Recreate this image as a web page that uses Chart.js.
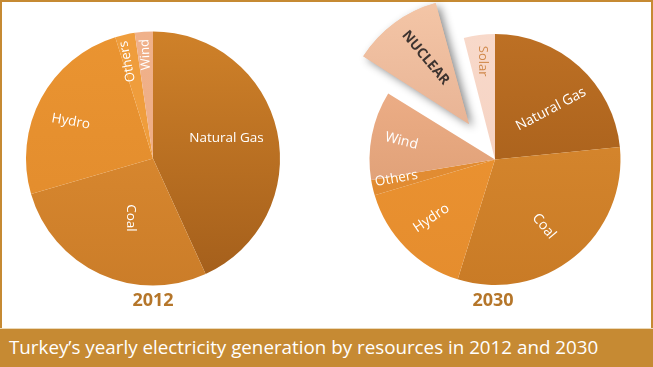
<!DOCTYPE html>
<html><head><meta charset="utf-8">
<script src="https://cdn.jsdelivr.net/npm/chart.js@4.4.0/dist/chart.umd.min.js"></script>
<style>
html,body{margin:0;padding:0;background:#fff;}
#wrap{position:relative;width:653px;height:367px;overflow:hidden;background:#fff;font-family:'Open Sans',sans-serif;}
#frame{position:absolute;left:0;top:0;width:653px;height:329px;box-sizing:border-box;border:2px solid #C68A33;border-bottom:none;}
#footer{position:absolute;left:0;top:328px;width:653px;height:39px;background:#C68A33;border-top:1px solid #EBD9B8;box-sizing:border-box;color:#fff;font-size:18.8px;line-height:36px;padding-left:9px;white-space:nowrap;}
.year{position:absolute;top:287px;width:100px;text-align:center;font-weight:bold;font-size:18px;color:#B5762A;}
canvas{position:absolute;top:0;}
</style></head>
<body><div id="wrap">
<div id="frame"></div>
<canvas id="c2012" width="306" height="317" style="left:0"></canvas>
<canvas id="c2030" width="330" height="319" style="left:330px"></canvas>
<div class="year" id="y0" style="left:103px"></div>
<div class="year" id="y1" style="left:443px"></div>
<div id="footer"></div>
</div>
<script>
// ---- data ----
const years = ['2012', '2030'];
const footerTitle = 'Turkey’s yearly electricity generation by resources in 2012 and 2030';
const categories2012 = ['Natural Gas', 'Coal', 'Hydro', 'Others', 'Wind'];
const values2012 = [43.2, 27.3, 24.7, 2.5, 2.3];
const categories2030 = ['Natural Gas', 'Coal', 'Hydro', 'Others', 'Wind', 'NUCLEAR', 'Solar'];
const values2030 = [23.4, 31.4, 15.6, 2.0, 11.4, 12.2, 4.0];

// ---- styles ----
const colors2012 = [['#CF8129', '#A35E1B'], ['#E28F33', '#CB7D29'], ['#EA9431', '#E08A2C'], ['#EF9D3C', '#EF9D3C'], ['#F0B18A', '#EDAA82']];
const colors2030 = [['#BD7024', '#9C5717'], ['#DC8C31', '#C97B26'], ['#EE9532', '#E58D2E'], ['#E38E34', '#E08A30'], ['#F3B48E', '#D4956A'], ['#F4C6A7', '#DDA283'], ['#F8D9CA', '#F3CDBC']];
const offsets2030 = [0, 0, 0, 0, 0, 176, 0];
const labels2012 = [
  {f: 0.6, da: -3, rot: 0, size: 13.5},
  {f: 0.5, da: -4, rot: 90, size: 13.5},
  {f: 0.71, da: -4, rot: 10, size: 13.5},
  {f: 0.79, da: -2, rot: -101, size: 13},
  {f: 0.82, da: 0, rot: -93, size: 13}
];
const labels2030 = [
  {f: 0.6, da: 6, rot: -28, size: 14},
  {f: 0.66, da: 3, rot: 50, size: 14},
  {f: 0.69, da: 2, rot: -34, size: 14},
  {f: 0.8, da: 2, rot: -10, size: 13.5},
  {f: 0.76, da: 0, rot: 14, size: 14},
  {f: 0.63, da: 2, rot: 50, size: 14, bold: true, color: '#3E3430'},
  {f: 0.79, da: 0, rot: 90, size: 13, color: '#D0894C'}
];

document.getElementById('y0').textContent = years[0];
document.getElementById('y1').textContent = years[1];
document.getElementById('footer').textContent = footerTitle;

function gradFor(colors) {
  return (ctx) => {
    const chart = ctx.chart;
    const a = chart.chartArea;
    const pair = colors[ctx.dataIndex];
    if (!a) return pair[0];
    const meta = chart.getDatasetMeta(0);
    const r = meta.controller.outerRadius || (a.bottom - a.top) / 2;
    const cy = (a.top + a.bottom) / 2;
    const g = chart.ctx.createLinearGradient(0, cy - r, 0, cy + r);
    g.addColorStop(0, pair[0]);
    g.addColorStop(1, pair[1]);
    return g;
  };
}

// keeps an exploded slice at the same radius as the others
const flatOffset = {
  id: 'flatOffset',
  afterDatasetUpdate(chart, args) {
    args.meta.data.forEach(el => {
      const off = (el.options.offset || 0) / 4;
      if (off > 0) {
        const circ = el.endAngle - el.startAngle;
        const fix = 1 - Math.sin(Math.min(Math.PI, circ));
        el.outerRadius = el.outerRadius - off * fix;
      }
    });
  }
};

const shadowSlice = {
  id: 'shadowSlice',
  beforeDatasetDraw(chart, args) {
    const ctx = chart.ctx;
    args.meta.data.forEach(el => {
      if ((el.options.offset || 0) > 0) {
        ctx.save();
        ctx.shadowColor = 'rgba(0,0,0,0.45)';
        ctx.shadowBlur = 9;
        ctx.shadowOffsetX = 4;
        ctx.shadowOffsetY = 3;
        el.draw(ctx);
        ctx.restore();
      }
    });
  }
};

const sliceLabels = {
  id: 'sliceLabels',
  afterDatasetsDraw(chart, args, opts) {
    const ctx = chart.ctx;
    const meta = chart.getDatasetMeta(0);
    const R = meta.controller.outerRadius;
    const names = chart.data.labels;
    meta.data.forEach((el, i) => {
      const s = opts.styles[i];
      const off = (el.options.offset || 0) / 4;
      const mid = (el.startAngle + el.endAngle) / 2 + s.da * Math.PI / 180;
      const d = off + s.f * R;
      const x = el.x + Math.cos(mid) * d;
      const y = el.y + Math.sin(mid) * d;
      ctx.save();
      ctx.translate(x, y);
      ctx.rotate(s.rot * Math.PI / 180);
      ctx.font = (s.bold ? 'bold ' : '') + s.size + "px 'Open Sans', sans-serif";
      ctx.fillStyle = s.color || '#ffffff';
      ctx.textAlign = 'center';
      ctx.textBaseline = 'middle';
      ctx.fillText(names[i], 0, 0);
      ctx.restore();
    });
  }
};

function makePie(id, cats, vals, colors, offsets, radius, styles) {
  return new Chart(document.getElementById(id), {
    type: 'pie',
    data: {
      labels: cats,
      datasets: [{
        data: vals,
        backgroundColor: gradFor(colors),
        borderWidth: 0,
        offset: offsets,
        hoverOffset: 0,
        radius: radius
      }]
    },
    options: {
      responsive: false,
      animation: false,
      events: [],
      layout: {padding: 0},
      plugins: {
        legend: {display: false},
        tooltip: {enabled: false},
        sliceLabels: {styles: styles}
      }
    },
    plugins: [flatOffset, shadowSlice, sliceLabels]
  });
}

makePie('c2012', categories2012, values2012, colors2012, 0, 127, labels2012);
makePie('c2030', categories2030, values2030, colors2030, offsets2030, 125.5, labels2030);
</script>
</body></html>
